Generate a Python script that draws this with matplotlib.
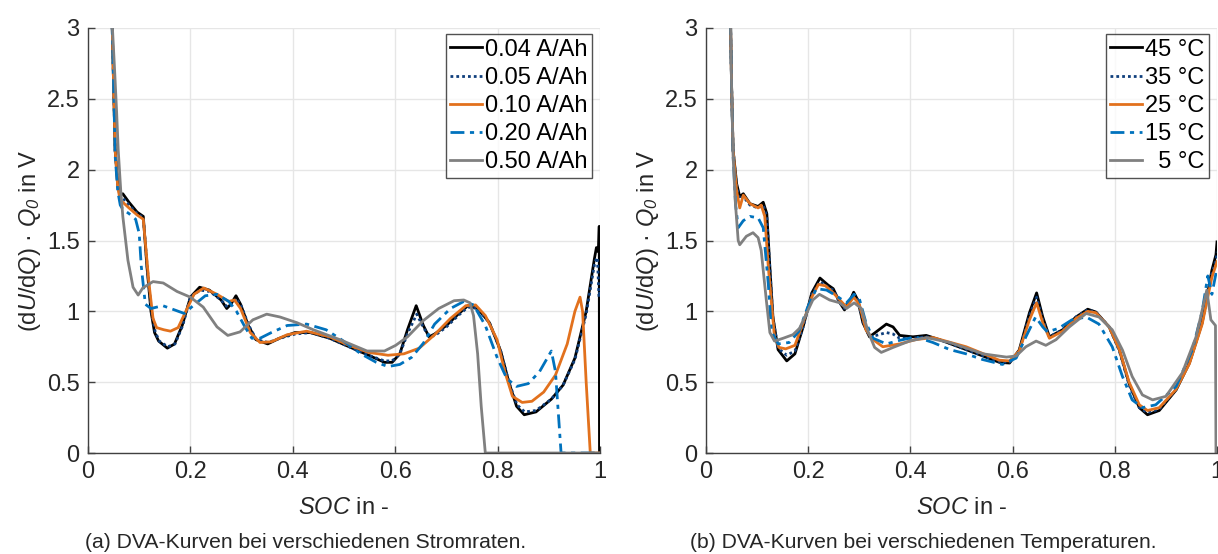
import matplotlib
matplotlib.use("Agg")
import matplotlib.pyplot as plt

plt.rcParams['font.family'] = ['Liberation Sans', 'DejaVu Sans']
plt.rcParams['mathtext.fontset'] = 'custom'
plt.rcParams['mathtext.rm'] = 'Liberation Sans'
plt.rcParams['mathtext.it'] = 'Liberation Sans:italic'
plt.rcParams['mathtext.sf'] = 'Liberation Sans:italic'

# ---------------- data: left (current rates) ----------------
rate_labels = ['0.04 A/Ah', '0.05 A/Ah', '0.10 A/Ah', '0.20 A/Ah', '0.50 A/Ah']

soc_004 = [0.047,0.050,0.053,0.058,0.063,0.068,0.080,0.096,0.108,0.115,0.123,0.130,0.138,0.155,0.169,0.184,0.200,0.218,0.237,0.260,0.271,0.279,0.289,0.298,0.313,0.328,0.351,0.374,0.404,0.434,0.472,0.510,0.548,0.579,0.594,0.609,0.624,0.641,0.655,0.666,0.677,0.700,0.723,0.742,0.761,0.784,0.806,0.822,0.837,0.852,0.875,0.905,0.928,0.951,0.973,0.989,0.993,0.997,0.9985,0.999,1.0]
dva_004 = [3.05,2.6,2.14,1.9,1.82,1.83,1.77,1.70,1.67,1.32,1.0,0.85,0.79,0.74,0.77,0.9,1.1,1.17,1.15,1.08,1.02,1.05,1.11,1.05,0.9,0.8,0.77,0.81,0.85,0.85,0.81,0.75,0.69,0.64,0.64,0.70,0.87,1.04,0.9,0.82,0.84,0.9,0.98,1.04,1.02,0.92,0.72,0.5,0.33,0.27,0.29,0.38,0.48,0.67,1.0,1.37,1.45,1.42,1.6,0.0,0.0]

soc_005 = [0.047,0.050,0.053,0.058,0.063,0.068,0.080,0.096,0.108,0.116,0.124,0.131,0.139,0.156,0.170,0.185,0.200,0.219,0.238,0.260,0.272,0.280,0.290,0.299,0.314,0.329,0.352,0.375,0.405,0.435,0.472,0.510,0.548,0.579,0.594,0.609,0.625,0.642,0.656,0.667,0.678,0.700,0.723,0.742,0.761,0.784,0.806,0.822,0.838,0.853,0.875,0.905,0.928,0.951,0.973,0.990,0.995,0.998,1.0]
dva_005 = [3.05,2.6,2.14,1.9,1.8,1.8,1.75,1.69,1.66,1.3,1.0,0.86,0.79,0.75,0.77,0.9,1.1,1.15,1.14,1.08,1.03,1.05,1.09,1.04,0.9,0.8,0.78,0.81,0.84,0.85,0.81,0.75,0.69,0.65,0.65,0.70,0.85,0.98,0.88,0.82,0.83,0.89,0.97,1.03,1.02,0.92,0.72,0.5,0.34,0.29,0.30,0.38,0.48,0.66,0.98,1.35,1.38,1.1,1.15]

soc_010 = [0.047,0.050,0.053,0.058,0.063,0.068,0.080,0.096,0.108,0.119,0.127,0.134,0.148,0.161,0.176,0.191,0.207,0.226,0.252,0.275,0.286,0.298,0.317,0.336,0.358,0.389,0.427,0.472,0.510,0.548,0.586,0.617,0.647,0.677,0.708,0.738,0.757,0.776,0.799,0.814,0.829,0.848,0.867,0.890,0.913,0.936,0.951,0.961,0.966,0.973,0.981,1.0]
dva_010 = [3.05,2.6,2.14,1.88,1.78,1.77,1.73,1.68,1.65,1.2,0.95,0.885,0.87,0.86,0.885,1.0,1.12,1.165,1.12,1.07,1.08,1.02,0.85,0.78,0.785,0.835,0.86,0.82,0.76,0.71,0.69,0.70,0.74,0.835,0.95,1.04,1.045,0.97,0.80,0.575,0.40,0.357,0.365,0.43,0.55,0.77,1.0,1.10,1.0,0.5,0.0,0.0]

soc_020 = [0.047,0.050,0.053,0.058,0.063,0.068,0.080,0.093,0.100,0.104,0.112,0.123,0.146,0.169,0.188,0.207,0.229,0.252,0.275,0.290,0.305,0.320,0.336,0.358,0.389,0.427,0.465,0.495,0.533,0.563,0.586,0.609,0.632,0.655,0.677,0.708,0.734,0.753,0.776,0.799,0.818,0.837,0.860,0.882,0.905,0.913,0.924,1.0]
dva_020 = [3.05,2.6,2.1,1.85,1.75,1.72,1.69,1.65,1.55,1.32,1.05,1.02,1.04,1.01,0.985,1.045,1.11,1.12,1.07,1.0,0.9,0.81,0.81,0.85,0.90,0.91,0.87,0.80,0.70,0.64,0.61,0.625,0.675,0.775,0.91,1.02,1.07,1.045,0.90,0.675,0.525,0.47,0.49,0.575,0.72,0.575,0.0,0.0]

soc_050 = [0.047,0.052,0.056,0.059,0.064,0.068,0.078,0.088,0.098,0.107,0.127,0.147,0.174,0.200,0.225,0.252,0.273,0.297,0.322,0.349,0.375,0.408,0.440,0.492,0.545,0.579,0.601,0.624,0.655,0.685,0.715,0.734,0.746,0.753,0.761,0.768,0.776,1.0]
dva_050 = [3.05,2.7,2.4,2.14,1.85,1.67,1.36,1.17,1.115,1.165,1.21,1.20,1.14,1.10,1.03,0.89,0.83,0.855,0.94,0.98,0.96,0.92,0.87,0.80,0.72,0.72,0.76,0.82,0.935,1.02,1.075,1.08,1.06,0.97,0.70,0.33,0.0,0.0]

# ---------------- data: right (temperatures) ----------------
temp_labels = ['45 °C', '35 °C', '25 °C', '15 °C', '  5 °C']

soc_45 = [0.048,0.050,0.053,0.060,0.066,0.073,0.086,0.102,0.112,0.119,0.125,0.131,0.141,0.158,0.174,0.190,0.207,0.223,0.239,0.249,0.262,0.271,0.281,0.289,0.297,0.307,0.320,0.333,0.353,0.366,0.379,0.405,0.431,0.457,0.509,0.574,0.594,0.613,0.633,0.647,0.659,0.672,0.698,0.724,0.747,0.763,0.789,0.809,0.828,0.848,0.864,0.887,0.920,0.946,0.971,0.990,0.998,1.0]
dva_45 = [3.05,2.6,2.14,1.9,1.81,1.83,1.76,1.74,1.77,1.69,1.31,0.96,0.73,0.65,0.70,0.89,1.13,1.235,1.185,1.16,1.06,1.01,1.07,1.135,1.08,0.92,0.82,0.855,0.91,0.89,0.83,0.82,0.83,0.80,0.73,0.64,0.635,0.727,0.99,1.13,0.96,0.82,0.87,0.96,1.015,0.995,0.89,0.727,0.49,0.32,0.27,0.30,0.445,0.635,0.92,1.29,1.40,1.49]

soc_35 = [0.048,0.050,0.053,0.060,0.066,0.073,0.086,0.102,0.112,0.119,0.125,0.131,0.141,0.158,0.174,0.190,0.207,0.223,0.239,0.249,0.262,0.271,0.281,0.289,0.297,0.307,0.320,0.333,0.353,0.366,0.379,0.405,0.431,0.457,0.509,0.574,0.594,0.613,0.633,0.647,0.659,0.672,0.698,0.724,0.747,0.763,0.789,0.809,0.828,0.848,0.864,0.887,0.920,0.946,0.971,0.990,0.998,1.0]
dva_35 = [3.05,2.6,2.14,1.88,1.79,1.81,1.75,1.73,1.75,1.67,1.3,0.95,0.74,0.69,0.72,0.89,1.12,1.21,1.17,1.15,1.06,1.02,1.07,1.12,1.08,0.93,0.82,0.83,0.85,0.84,0.81,0.81,0.82,0.80,0.73,0.645,0.64,0.72,0.97,1.10,0.94,0.82,0.87,0.96,1.01,0.995,0.89,0.72,0.48,0.32,0.285,0.31,0.45,0.64,0.93,1.27,1.36,1.42]

soc_25 = [0.048,0.050,0.053,0.060,0.066,0.073,0.086,0.102,0.108,0.115,0.122,0.134,0.143,0.156,0.174,0.190,0.207,0.220,0.234,0.249,0.275,0.289,0.300,0.313,0.327,0.346,0.379,0.410,0.444,0.509,0.574,0.594,0.613,0.633,0.647,0.659,0.672,0.698,0.724,0.747,0.763,0.789,0.809,0.828,0.848,0.864,0.887,0.920,0.946,0.971,0.990,1.0]
dva_25 = [3.05,2.6,2.14,1.85,1.73,1.82,1.76,1.73,1.75,1.67,1.31,0.82,0.745,0.735,0.76,0.92,1.1,1.19,1.18,1.13,1.03,1.10,1.05,0.87,0.80,0.75,0.77,0.80,0.815,0.75,0.655,0.65,0.72,0.94,1.06,0.92,0.81,0.86,0.95,1.0,0.99,0.89,0.73,0.50,0.34,0.30,0.32,0.45,0.63,0.91,1.24,1.35]

soc_15 = [0.048,0.050,0.053,0.058,0.063,0.073,0.086,0.102,0.112,0.122,0.128,0.141,0.163,0.182,0.199,0.216,0.236,0.255,0.275,0.290,0.300,0.313,0.327,0.353,0.379,0.410,0.444,0.477,0.509,0.541,0.580,0.607,0.626,0.645,0.659,0.668,0.690,0.716,0.744,0.769,0.795,0.815,0.834,0.854,0.880,0.920,0.952,0.971,0.982,0.990,0.997,1.0]
dva_15 = [3.05,2.6,2.1,1.75,1.59,1.64,1.67,1.66,1.59,1.19,0.86,0.77,0.78,0.86,1.03,1.16,1.15,1.11,1.06,1.12,1.09,0.92,0.81,0.77,0.795,0.82,0.78,0.73,0.70,0.66,0.625,0.67,0.82,0.96,0.89,0.855,0.88,0.94,0.96,0.91,0.75,0.54,0.375,0.32,0.34,0.47,0.73,1.0,1.25,1.12,1.25,1.3]

soc_5 = [0.048,0.050,0.053,0.057,0.063,0.066,0.079,0.092,0.102,0.108,0.118,0.125,0.134,0.151,0.170,0.183,0.196,0.209,0.222,0.242,0.262,0.275,0.290,0.304,0.317,0.330,0.343,0.366,0.398,0.431,0.477,0.542,0.588,0.607,0.626,0.646,0.665,0.685,0.711,0.744,0.769,0.795,0.815,0.834,0.854,0.874,0.900,0.932,0.959,0.980,0.988,0.997,0.998,1.0]
dva_5 = [3.05,2.6,2.1,1.79,1.5,1.47,1.53,1.555,1.52,1.43,1.08,0.85,0.79,0.81,0.835,0.88,0.98,1.08,1.12,1.08,1.06,1.02,1.06,1.02,0.86,0.745,0.71,0.745,0.79,0.815,0.78,0.70,0.677,0.685,0.75,0.79,0.76,0.80,0.89,0.985,0.96,0.87,0.727,0.54,0.41,0.375,0.40,0.565,0.82,1.15,0.94,0.9,0.0,0.0]

x_ticks = [0, 0.2, 0.4, 0.6, 0.8, 1]
x_ticklabels = ['0', '0.2', '0.4', '0.6', '0.8', '1']
y_ticks = [0, 0.5, 1, 1.5, 2, 2.5, 3]
y_ticklabels = ['0', '0.5', '1', '1.5', '2', '2.5', '3']

captions = ['(a) DVA-Kurven bei verschiedenen Stromraten.',
            '(b) DVA-Kurven bei verschiedenen Temperaturen.']

# ---------------- styles ----------------
colors = ['#000000', '#0f3f7c', '#E2711D', '#0072BD', '#808080']
styles = ['-', (0, (1, 1.1)), '-', (0, (5, 2, 1.5, 2)), '-']
LW = 2.0
FS = 17
TXT = '#262626'

W, H = 1218, 554
fig = plt.figure(figsize=(W / 100, H / 100), dpi=100)

ax_l = fig.add_axes([88 / W, (H - 453) / H, 512 / W, 425 / H])
ax_r = fig.add_axes([706 / W, (H - 453) / H, 511 / W, 425 / H])

left_series = [(soc_004, dva_004), (soc_005, dva_005), (soc_010, dva_010),
               (soc_020, dva_020), (soc_050, dva_050)]
right_series = [(soc_45, dva_45), (soc_35, dva_35), (soc_25, dva_25),
                (soc_15, dva_15), (soc_5, dva_5)]

def style_axes(ax):
    ax.set_xlim(0, 1)
    ax.set_ylim(0, 3)
    ax.set_xticks(x_ticks)
    ax.set_xticklabels(x_ticklabels)
    ax.set_yticks(y_ticks)
    ax.set_yticklabels(y_ticklabels)
    ax.grid(True, color='#e6e6e6', lw=1.0)
    ax.set_axisbelow(True)
    for s in ['top', 'right']:
        ax.spines[s].set_visible(False)
    for s in ['left', 'bottom']:
        ax.spines[s].set_color('#404040')
        ax.spines[s].set_linewidth(1.0)
    ax.tick_params(direction='in', length=5, width=1, colors='#404040',
                   labelcolor=TXT, labelsize=FS, pad=6)
    ax.set_xlabel(r'$\mathit{SOC}$ in -', fontsize=FS, color=TXT, labelpad=10)
    ax.set_ylabel(r'(d$\mathit{U}$/d$\mathit{Q}$) · $\mathit{Q}_{\mathsf{0}}$ in V',
                  fontsize=FS, color=TXT, labelpad=3)

for ax, series, labels in [(ax_l, left_series, rate_labels),
                           (ax_r, right_series, temp_labels)]:
    style_axes(ax)
    for (xs, ys), c, ls, lab in zip(series, colors, styles, labels):
        ax.plot(xs, ys, color=c, ls=ls, lw=LW, label=lab,
                solid_joinstyle='round', dash_joinstyle='round')

leg_kw = dict(loc='upper right', fontsize=FS, frameon=True, fancybox=False,
              borderaxespad=0, handlelength=1.35, handletextpad=0.1,
              labelspacing=0.26, borderpad=0.2)
lg = ax_l.legend(bbox_to_anchor=(0.984, 0.986), **leg_kw)
lg2 = ax_r.legend(bbox_to_anchor=(0.984, 0.986), **leg_kw)
for L in (lg, lg2):
    L.get_frame().set_edgecolor('#262626')
    L.get_frame().set_linewidth(1.0)
    for t in L.get_texts():
        t.set_color('#000000')

fig.text(306 / W, 1 - 543 / H, captions[0], ha='center', va='center',
         fontsize=15.2, color=TXT)
fig.text(923 / W, 1 - 543 / H, captions[1], ha='center', va='center',
         fontsize=15.2, color=TXT)

fig.savefig('out.png', dpi=100)
